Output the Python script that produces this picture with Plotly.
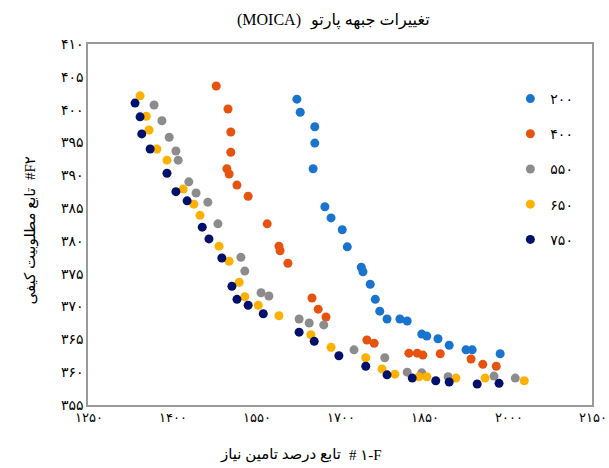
import plotly.graph_objects as go

# ---------------- data ----------------
series_names = [200, 400, 550, 650, 750]
series_colors = ["#1874CD", "#E8520F", "#8C8C8C", "#FFB000", "#00106B"]

x_200 = [1623, 1629, 1655, 1655, 1652, 1673, 1684, 1704, 1713, 1738, 1741, 1754,
         1763, 1771, 1784, 1807, 1820, 1846, 1855, 1875, 1895, 1925, 1936, 1986]
y_200 = [401.6, 399.6, 397.4, 394.9, 391.0, 385.2, 383.5, 381.7, 379.1, 376.0, 375.3, 373.4,
         371.1, 369.3, 368.1, 368.1, 367.8, 365.8, 365.5, 365.1, 364.1, 363.4, 363.4, 362.8]

x_400 = [1479, 1500, 1505, 1505, 1498, 1502, 1516, 1536, 1570, 1591, 1593, 1607,
         1650, 1661, 1675, 1748, 1761, 1823, 1838, 1848, 1879, 1934, 1955, 1979]
y_400 = [403.6, 400.1, 396.6, 393.5, 391.0, 390.2, 388.5, 386.8, 382.6, 379.2, 378.5, 376.6,
         371.3, 369.6, 368.4, 364.9, 364.4, 362.9, 362.9, 362.6, 362.8, 362.0, 361.2, 360.9]

x_550 = [1368, 1382, 1395, 1407, 1411, 1430, 1443, 1464, 1482, 1523, 1530, 1559,
         1573, 1627, 1645, 1671, 1725, 1780, 1820, 1846, 1893, 1975, 2013]
y_550 = [400.7, 398.3, 395.8, 393.7, 392.3, 389.0, 387.3, 385.9, 382.6, 377.5, 375.4, 372.1,
         371.6, 368.1, 367.5, 367.2, 363.4, 362.2, 360.0, 359.9, 359.3, 359.4, 359.1]

x_650 = [1343, 1354, 1359, 1373, 1391, 1420, 1439, 1450, 1484, 1502, 1520, 1530,
         1554, 1591, 1648, 1684, 1746, 1775, 1798, 1841, 1855, 1907, 1959, 2029]
y_650 = [402.1, 399.0, 396.9, 394.0, 392.3, 387.9, 385.6, 383.9, 379.2, 376.9, 373.7, 371.5,
         370.2, 368.6, 365.7, 363.8, 362.2, 360.5, 359.7, 359.3, 359.3, 359.1, 359.1, 358.7]

x_750 = [1334, 1343, 1346, 1361, 1391, 1407, 1427, 1454, 1466, 1489, 1507, 1516,
         1536, 1563, 1627, 1654, 1698, 1746, 1784, 1829, 1871, 1895, 1945, 1984]
y_750 = [401.0, 398.9, 396.3, 394.0, 390.3, 387.5, 386.1, 382.1, 380.3, 377.4, 373.1, 371.1,
         370.2, 368.9, 366.1, 364.7, 362.5, 360.9, 359.6, 359.1, 358.7, 358.5, 358.2, 358.3]

x_ticks = [1250, 1400, 1550, 1700, 1850, 2000, 2150]
y_ticks = [355, 360, 365, 370, 375, 380, 385, 390, 395, 400, 405, 410]

# text pieces (Latin / Persian parts kept apart so their visual order is fixed)
title_latin = "(MOICA)"
title_fa = "تغییرات جبهه پارتو"
x_title_latin = "# ۱-F"
x_title_fa = "تابع درصد تامین نیاز"
y_title_latin = "#F۲"
y_title_fa = "تابع مطلوبیت کیفی"

# ---------------- helpers ----------------
FA_DIGITS = str.maketrans("0123456789", "۰۱۲۳۴۵۶۷۸۹")


def fa(n):
    return str(n).translate(FA_DIGITS)


FONT = "Liberation Serif, DejaVu Sans, serif"

xs = [x_200, x_400, x_550, x_650, x_750]
ys = [y_200, y_400, y_550, y_650, y_750]

fig = go.Figure()
for name, color, xv, yv in zip(series_names, series_colors, xs, ys):
    fig.add_trace(go.Scatter(
        x=xv, y=yv, mode="markers", name=fa(name),
        legendgroup=str(name),
        marker=dict(color=color, size=9, line=dict(width=0)),
    ))


def ann(text, x, y, xa, ya, size, angle=0):
    return dict(text=text, xref="paper", yref="paper", x=x, y=y,
                xanchor=xa, yanchor=ya, showarrow=False, textangle=angle,
                font=dict(size=size, family=FONT, color="#000000"))


fig.update_layout(
    width=609, height=468,
    margin=dict(l=88, r=17, t=44, b=63, autoexpand=False),
    paper_bgcolor="white", plot_bgcolor="white",
    font=dict(family=FONT, size=14, color="#000000"),
    showlegend=True,
    legend=dict(
        x=0.838, y=0.892, xanchor="left", yanchor="top",
        bgcolor="rgba(0,0,0,0)", tracegroupgap=14,
        itemwidth=30, font=dict(size=14, family=FONT),
    ),
    xaxis=dict(
        range=[1250, 2150], tickvals=x_ticks, ticktext=[fa(v) for v in x_ticks],
        showgrid=False, zeroline=False, showline=True, mirror=True,
        linecolor="#9a9a9a", linewidth=1.5, ticks="", ticklabelshift=1,
        ticklabeloverflow="allow", automargin=False,
        tickfont=dict(size=13),
    ),
    yaxis=dict(
        range=[355, 410], tickvals=y_ticks, ticktext=[fa(v) for v in y_ticks],
        showgrid=False, zeroline=False, showline=True, mirror=True,
        linecolor="#9a9a9a", linewidth=1.5, ticks="", automargin=False,
        tickfont=dict(size=14),
    ),
    annotations=[
        ann(title_latin, 0.427, 1.066, "right", "middle", 16),
        ann(title_fa, 0.437, 1.066, "left", "middle", 16),
        ann(x_title_fa, 0.506, -0.1385, "right", "middle", 15),
        ann(x_title_latin, 0.514, -0.1385, "left", "middle", 15),
        ann(y_title_latin, -0.115, 0.6177, "center", "bottom", 15, -90),
        ann(y_title_fa, -0.115, 0.6066, "center", "top", 15, -90),
    ],
)

fig.write_html("out.html")
